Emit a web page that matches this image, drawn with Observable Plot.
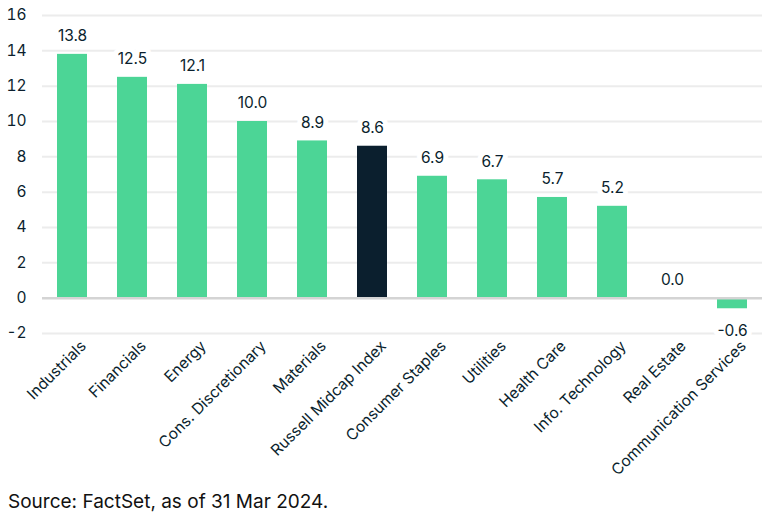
<!DOCTYPE html>
<html>
<head>
<meta charset="utf-8">
<script src="https://cdn.jsdelivr.net/npm/d3@7"></script>
<script src="https://cdn.jsdelivr.net/npm/@observablehq/plot@0.6"></script>
<style>
  body { margin: 0; background: #fff; font-family: Inter, "Noto Sans", sans-serif; color: #0b1f2e; }
  #chart svg { display: block; overflow: visible; }
  #caption { font-size: 19px; margin: 8px 0 0 8px; color: #111; }
</style>
</head>
<body>
<div id="chart"></div>
<div id="caption">Source: FactSet, as of 31 Mar 2024.</div>
<script>
const categories = ["Industrials","Financials","Energy","Cons. Discretionary","Materials","Russell Midcap Index","Consumer Staples","Utilities","Health Care","Info. Technology","Real Estate","Communication Services"];
const values = [13.8, 12.5, 12.1, 10.0, 8.9, 8.6, 6.9, 6.7, 5.7, 5.2, 0.0, -0.6];
const benchmark = "Russell Midcap Index";
const yTicks = [-2, 0, 2, 4, 6, 8, 10, 12, 14, 16];

const data = categories.map((c, i) => ({category: c, value: values[i]}));
const textColor = "#0b1f2e";
const font = "Inter, 'Noto Sans', sans-serif";

const plot = Plot.plot({
  width: 765,
  height: 482,
  marginLeft: 42,
  marginRight: 3,
  marginTop: 15,
  marginBottom: 149,
  style: {fontFamily: font, color: textColor, background: "white"},
  x: {domain: categories, paddingInner: 0.5, paddingOuter: 0.25, label: null},
  y: {domain: [-2, 16], label: null},
  marks: [
    Plot.ruleY(yTicks.filter(d => d !== 0), {stroke: "#ececec", strokeWidth: 2}),
    Plot.barY(data, {x: "category", y: "value", fill: d => d.category === benchmark ? "#0b1f2e" : "#4cd596"}),
    Plot.ruleY([0], {stroke: "#d4d4d4", strokeWidth: 2.5}),
    Plot.text(data, {
      x: "category", y: "value",
      text: d => d.value.toFixed(1),
      lineAnchor: "middle",
      fontSize: 15.5,
      fill: textColor,
      stroke: "white", strokeWidth: 10, paintOrder: "stroke",
      filter: d => d.value >= 0,
      dy: -18
    }),
    Plot.text(data, {
      x: "category", y: "value",
      text: d => d.value.toFixed(1),
      lineAnchor: "middle",
      fontSize: 15.5,
      fill: textColor,
      stroke: "white", strokeWidth: 10, paintOrder: "stroke",
      filter: d => d.value < 0,
      dy: 22
    }),
    Plot.axisY({ticks: yTicks, tickSize: 0, tickPadding: 16, fontSize: 15.5, tickFormat: d => d < 0 ? "-" + Math.abs(d) : String(d), fill: textColor}),
    Plot.axisX({tickSize: 0, tickRotate: -45, fontSize: 15.5, tickPadding: 6, dx: 11, dy: 4, fill: textColor})
  ]
});
document.getElementById("chart").appendChild(plot);
</script>
</body>
</html>
